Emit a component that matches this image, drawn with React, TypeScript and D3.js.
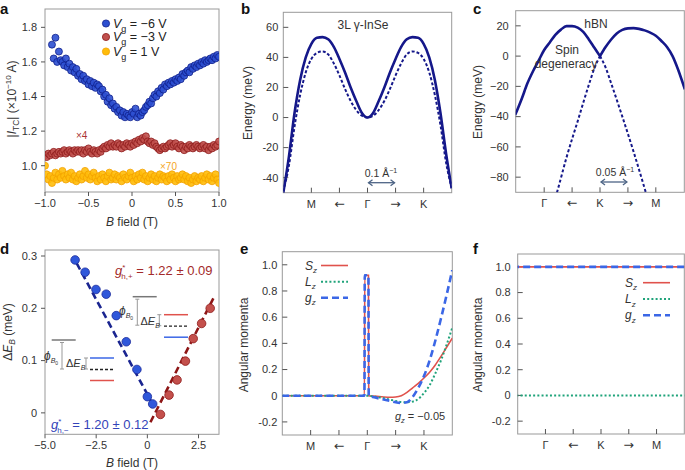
import React from 'react'
import * as d3 from 'd3'

const FONT = '"Liberation Sans", Arial, Helvetica, sans-serif'
const W = 685
const H = 470

// ---------- a: tunnelling current vs B field ----------
const FIELD_STEP = 0.02
const blueStartB = -0.92
const redStartB = -1.0
const yellowStartB = -1.0
// Vg = -6 V
const blueCurrent = [
  1.70, 1.62, 1.74, 1.60, 1.66, 1.61, 1.60, 1.58, 1.62, 1.57,
  1.59, 1.55, 1.57, 1.54, 1.56, 1.52, 1.53, 1.50, 1.52, 1.49,
  1.50, 1.47, 1.49, 1.46, 1.48, 1.45, 1.47, 1.46, 1.43, 1.44,
  1.40, 1.41, 1.37, 1.39, 1.35, 1.36, 1.33, 1.34, 1.31, 1.32,
  1.29, 1.31, 1.28, 1.30, 1.29, 1.28, 1.31, 1.30, 1.33, 1.28,
  1.30, 1.29, 1.31, 1.32, 1.34, 1.35, 1.37, 1.36, 1.39, 1.41,
  1.40, 1.43, 1.42, 1.45, 1.44, 1.47, 1.46, 1.48, 1.47, 1.49,
  1.48, 1.50, 1.49, 1.51, 1.50, 1.53, 1.52, 1.54, 1.55, 1.54,
  1.57, 1.56, 1.58, 1.57, 1.59, 1.58, 1.60, 1.59, 1.61, 1.60,
  1.61, 1.62, 1.61, 1.63, 1.62, 1.64, 1.63
]
// Vg = -3 V (x4)
const redCurrent = [
  1.06, 1.05, 1.07, 1.06, 1.07, 1.08, 1.06, 1.07, 1.08, 1.07,
  1.08, 1.09, 1.07, 1.08, 1.09, 1.08, 1.07, 1.09, 1.08, 1.09,
  1.08, 1.09, 1.07, 1.09, 1.08, 1.10, 1.08, 1.07, 1.09, 1.08,
  1.07, 1.09, 1.08, 1.10, 1.11, 1.10, 1.12, 1.11, 1.13, 1.11,
  1.12, 1.11, 1.13, 1.12, 1.10, 1.12, 1.11, 1.13, 1.12, 1.11,
  1.13, 1.12, 1.14, 1.13, 1.15, 1.14, 1.16, 1.15, 1.17, 1.14,
  1.13, 1.14, 1.12, 1.13, 1.11, 1.10, 1.09, 1.10, 1.11, 1.10,
  1.11, 1.12, 1.13, 1.11, 1.12, 1.13, 1.11, 1.10, 1.12, 1.11,
  1.09, 1.11, 1.10, 1.12, 1.11, 1.10, 1.11, 1.12, 1.11, 1.10,
  1.11, 1.12, 1.10, 1.11, 1.09, 1.11, 1.10, 1.12, 1.11, 1.12,
  1.14
]
// Vg = 1 V (x70)
const yellowCurrent = [
  1.00, 0.95, 0.92, 0.94, 0.90, 0.93, 0.96, 0.92, 0.95, 0.93,
  0.97, 0.94, 0.92, 0.95, 0.93, 0.96, 0.92, 0.94, 0.91, 0.93,
  0.95, 0.92, 0.94, 0.97, 0.93, 0.95, 0.92, 0.94, 0.96, 0.93,
  0.91, 0.94, 0.92, 0.95, 0.93, 0.91, 0.94, 0.96, 0.92, 0.93,
  0.95, 0.92, 0.94, 0.93, 0.91, 0.95, 0.93, 0.92, 0.94, 0.96,
  0.93, 0.91, 0.94, 0.92, 0.95, 0.93, 0.96, 0.92, 0.94, 0.91,
  0.93, 0.95, 0.92, 0.94, 0.91, 0.93, 0.95, 0.92, 0.94, 0.93,
  0.91, 0.94, 0.92, 0.95, 0.93, 0.91, 0.94, 0.92, 0.93, 0.95,
  0.92, 0.94, 0.91, 0.93, 0.90, 0.92, 0.94, 0.91, 0.93, 0.92,
  0.94, 0.91, 0.93, 0.95, 0.92, 0.94, 0.91, 0.93, 0.95, 0.92,
  0.90
]

// ---------- b: 3L InSe bands ----------
const inseK = [-0.3, -0.28, -0.26, -0.24, -0.22, -0.2, -0.18, -0.16, -0.14, -0.12, -0.1, -0.08, -0.06, -0.04, -0.02, 0,
  0.02, 0.04, 0.06, 0.08, 0.1, 0.12, 0.14, 0.16, 0.18, 0.2, 0.22, 0.24, 0.26, 0.28, 0.3]
const inseUpper = [-50, -26, 3, 25, 40, 49, 53, 53.5, 52, 47, 39, 30, 20, 11, 3, 0,
  3, 11, 20, 30, 39, 47, 52, 53.5, 53, 49, 40, 25, 3, -24, -47]
const inseLower = [-49, -32, -6, 15, 30, 39, 43, 44, 42, 36, 28, 19, 11, 5, 1.2, 0,
  1.2, 5, 11, 19, 28, 36, 42, 44, 43, 39, 30, 15, -5, -30, -47]

// ---------- c: hBN bands ----------
const hbnLeftK = [-0.152, -0.14, -0.13, -0.12, -0.11, -0.1, -0.09, -0.08, -0.07, -0.06, -0.05, -0.04, -0.03, -0.02, -0.01, 0]
const hbnLeftE = [-39, -28, -18, -10, -3, 4, 9, 14, 17.5, 19.8, 19.8, 18.8, 16, 11, 5.5, 0]
const hbnRightK = [0, 0.01, 0.02, 0.03, 0.04, 0.05, 0.06, 0.07, 0.08, 0.09, 0.1, 0.11, 0.12, 0.13, 0.14, 0.152]
const hbnRightE = [0, 6, 11, 15, 17.3, 18.3, 18.5, 18, 17, 15.5, 13.5, 10, 6, 0, -9, -22]
const hbnDashLeftK = [-0.085, -0.077, -0.06, -0.04, -0.02, -0.01, 0]
const hbnDashLeftE = [-100, -90, -67, -43, -19, -8, 0]
const hbnDashRightK = [0, 0.01, 0.02, 0.04, 0.06, 0.082, 0.09]
const hbnDashRightE = [0, -7.5, -18, -40, -63, -90, -100]

// ---------- d: Zeeman splitting ----------
const minusB = [-3.53, -3.04, -2.51, -2.01, -1.52, -1.03, -0.51, 0.0, 0.26]
const minusE = [0.2925, 0.269, 0.236, 0.227, 0.186, 0.136, 0.083, 0.031, 0.017]
const plusB = [0.64, 1.06, 1.45, 1.86, 2.24, 2.65, 3.07]
const plusE = [-0.003, 0.034, 0.063, 0.099, 0.142, 0.171, 0.2]
const minusFitB = [-3.45, 0.3]
const minusFitE = [0.286, 0.0136]
const plusFitB = [0.15, 3.3]
const plusFitE = [-0.018, 0.225]

// ---------- e: angular momenta, InSe ----------
const amK = [-0.3, -0.01, -0.009, 0.004, 0.005, 0.02, 0.05, 0.08, 0.1, 0.12, 0.14, 0.16, 0.18, 0.2, 0.22, 0.24, 0.26, 0.28, 0.3]
const amSz = [0, 0, 0.92, 0.92, 0, -0.003, -0.008, -0.012, -0.01, 0.0, 0.025, 0.06, 0.095, 0.135, 0.18, 0.235, 0.3, 0.37, 0.44]
const amLz = [0, 0, 0, 0, 0, -0.005, -0.015, -0.03, -0.04, -0.048, -0.05, -0.045, -0.025, 0.02, 0.08, 0.17, 0.27, 0.39, 0.52]
const amGz = [0, 0, 0.92, 0.92, 0, -0.01, -0.025, -0.04, -0.05, -0.055, -0.05, -0.01, 0.06, 0.15, 0.27, 0.42, 0.59, 0.77, 0.96]

// ---------- f: angular momenta, hBN ----------
const hK = [-0.16, 0.16]
const hSz = [1, 1]
const hLz = [0, 0]
const hGz = [1, 1]

const kLabelsInSe = ['M', '←', 'Γ', '→', 'K']
const kLabelsHbn = ['Γ', '←', 'K', '→', 'M']

const RED = '#e0524c'
const GREEN = '#1fa37a'
const BLUE = '#3b67e6'
const NAVY = '#15188a'

type Sc = d3.ScaleLinear<number, number>

function Axes({ sx, sy, xt, xl, yt, yl, inward, gap }: any) {
  const [x0, x1] = sx.range()
  const [y0, y1] = sy.range()
  const t = inward ? 5 : -4
  return (
    <g fontFamily={FONT} fontSize={11} fill="#333">
      <rect x={x0} y={y1} width={x1 - x0} height={y0 - y1} fill="none" stroke="#999" strokeWidth={1} />
      {xt.map((v: number, i: number) => {
        const arrow = xl[i] === '←' || xl[i] === '→'
        return (
          <g key={'x' + i}>
            <line x1={sx(v)} x2={sx(v)} y1={y0} y2={y0 - t} stroke="#555" />
            <text x={sx(v)} y={y0 + 15} textAnchor="middle"
              fontFamily={arrow ? '"DejaVu Sans", sans-serif' : undefined} fontSize={arrow ? 12.5 : undefined}>{xl[i]}</text>
          </g>
        )
      })}
      {yt.map((v: number, i: number) => (
        <g key={'y' + i}>
          <line x1={x0} x2={x0 + t} y1={sy(v)} y2={sy(v)} stroke="#555" />
          <text x={x0 - gap} y={sy(v)} dy="0.35em" textAnchor="end">{yl[i]}</text>
        </g>
      ))}
    </g>
  )
}

function Clip({ id, sx, sy }: { id: string; sx: Sc; sy: Sc }) {
  const [x0, x1] = sx.range()
  const [y0, y1] = sy.range()
  return (
    <clipPath id={id}>
      <rect x={x0} y={y1} width={x1 - x0} height={y0 - y1} />
    </clipPath>
  )
}

function path(sx: Sc, sy: Sc, xs: number[], ys: number[], curve: any = d3.curveMonotoneX) {
  return d3.line<number>().x((_, i) => sx(xs[i])).y((_, i) => sy(ys[i])).curve(curve)(xs) || ''
}

function Letter({ x, y, c }: { x: number; y: number; c: string }) {
  return <text x={x} y={y} fontFamily={FONT} fontWeight="bold" fontSize={15} fill="#111">{c}</text>
}

function DoubleArrow({ x1, x2, y }: { x1: number; x2: number; y: number }) {
  return (
    <g stroke="#4d6485" strokeWidth={1.3} fill="none">
      <line x1={x1 + 1} x2={x2 - 1} y1={y} y2={y} />
      <path d={`M${x1 + 5},${y - 3} L${x1 + 1},${y} L${x1 + 5},${y + 3}`} />
      <path d={`M${x2 - 5},${y - 3} L${x2 - 1},${y} L${x2 - 5},${y + 3}`} />
    </g>
  )
}

function Levels({ ox, oy, brX, brBot, phiX, phiY, deX, deY, smX, linesX, colors }: any) {
  return (
    <g fontFamily={FONT}>
      <line x1={ox} x2={ox + 24} y1={oy} y2={oy} stroke="#777" strokeWidth={1.5} />
      <g stroke="#999" strokeWidth={1}>
        <line x1={brX} x2={brX} y1={oy + 2.5} y2={oy + brBot} />
        <line x1={brX - 2} x2={brX + 2} y1={oy + 2.5} y2={oy + 2.5} />
        <line x1={brX - 2} x2={brX + 2} y1={oy + brBot} y2={oy + brBot} />
        <line x1={smX} x2={smX} y1={oy + 18} y2={oy + 29} />
        <line x1={smX - 2} x2={smX + 2} y1={oy + 18} y2={oy + 18} />
        <line x1={smX - 2} x2={smX + 2} y1={oy + 29} y2={oy + 29} />
      </g>
      <text x={phiX} y={phiY} fontSize={12} fill="#333">
        <tspan fontStyle="italic">ϕ</tspan>
        <tspan dy={3} fontSize={7} fontStyle="italic">B</tspan>
        <tspan dy={1.5} fontSize={5}>0</tspan>
      </text>
      <text x={deX} y={deY} fontSize={11} fill="#333">
        Δ<tspan fontStyle="italic">E</tspan>
        <tspan dy={3} fontSize={7} fontStyle="italic">B</tspan>
      </text>
      <line x1={linesX} x2={linesX + 24} y1={oy + 18} y2={oy + 18} stroke={colors[0]} strokeWidth={1.5} />
      <line x1={linesX} x2={linesX + 24} y1={oy + 29.5} y2={oy + 29.5} stroke="#222" strokeWidth={1.3} strokeDasharray="3,2" />
      <line x1={linesX} x2={linesX + 24} y1={oy + 40.5} y2={oy + 40.5} stroke={colors[1]} strokeWidth={1.5} />
    </g>
  )
}

export default function App() {
  // ---- scales ----
  const aX = d3.scaleLinear().domain([-1, 1]).range([45, 219])
  const aY = d3.scaleLinear().domain([0.848, 1.906]).range([192, 9])
  const bX = d3.scaleLinear().domain([-0.3, 0.3]).range([283.3, 451.7])
  const bY = d3.scaleLinear().domain([-50, 70]).range([192.7, 12.3])
  const cX = d3.scaleLinear().domain([-0.151, 0.151]).range([515.7, 684.3])
  const cY = d3.scaleLinear().domain([-90, 30]).range([192.3, 10.7])
  const dX = d3.scaleLinear().domain([-5, 3.5]).range([45, 219])
  const dY = d3.scaleLinear().domain([-0.041, 0.3115]).range([434.3, 250])
  const eX = d3.scaleLinear().domain([-0.3, 0.3]).range([282.3, 452.3])
  const eY = d3.scaleLinear().domain([-0.3, 1.1]).range([435, 251.7])
  const fX = d3.scaleLinear().domain([-0.15, 0.15]).range([517.7, 684.3])
  const fY = d3.scaleLinear().domain([-0.3, 1.1]).range([434, 254])

  const series = [
    { vals: yellowCurrent, start: yellowStartB, fill: '#ffbd0a', stroke: '#f2a100' },
    { vals: redCurrent, start: redStartB, fill: '#c0504d', stroke: '#8e1c1c' },
    { vals: blueCurrent, start: blueStartB, fill: '#2c4fd0', stroke: '#0f1f8c' },
  ]

  const amTicksY = [-0.2, 0, 0.2, 0.4, 0.6, 0.8, 1.0]
  const amLabelsY = ['-0.2', '0', '0.2', '0.4', '0.6', '0.8', '1.0']

  return (
    <svg width={W} height={H} style={{ position: 'absolute', left: 0, top: 0, background: '#fff' }}>
      <defs>
        <Clip id="ca" sx={aX} sy={aY} />
        <Clip id="cb" sx={bX} sy={bY} />
        <Clip id="cc" sx={cX} sy={cY} />
        <Clip id="cd" sx={dX} sy={dY} />
        <Clip id="ce" sx={eX} sy={eY} />
        <Clip id="cf" sx={fX} sy={fY} />
      </defs>

      {/* ===== a ===== */}
      <Letter x={0} y={14} c="a" />
      <Axes sx={aX} sy={aY} xt={[-1, -0.5, 0, 0.5, 1]} xl={['−1.0', '−0.5', '0', '0.5', '1.0']}
        yt={[1.0, 1.2, 1.4, 1.6, 1.8]} yl={['1.0', '1.2', '1.4', '1.6', '1.8']} inward={false} gap={8} />
      <g clipPath="url(#ca)">
        {series.map((s, si) => s.vals.map((v, i) => (
          <circle key={si + '-' + i} cx={aX(s.start + i * FIELD_STEP)} cy={aY(v)} r={3.5}
            fill={s.fill} stroke={s.stroke} strokeWidth={0.8} fillOpacity={0.9} />
        )))}
      </g>
      <g fontFamily={FONT} fontSize={12.5} fill="#222">
        {[['−6 V', '#2c4fd0', '#0f1f8c', 23.5], ['−3 V', '#c0504d', '#8e1c1c', 37], ['1 V', '#ffbd0a', '#f2a100', 51.5]].map(([lab, f, s, y]: any) => (
          <g key={lab}>
            <circle cx={106} cy={y} r={3.6} fill={f} stroke={s} strokeWidth={0.8} />
            <text x={113} y={y + 4}>
              <tspan fontStyle="italic">V</tspan>
              <tspan dy={4} fontSize={9}>g</tspan>
              <tspan dy={-4}> = {lab}</tspan>
            </text>
          </g>
        ))}
      </g>
      <text x={76} y={139} fontFamily={FONT} fontSize={10} fill="#a33">×4</text>
      <text x={160} y={170} fontFamily={FONT} fontSize={10} fill="#f5a623">×70</text>
      <text transform="translate(16,99) rotate(-90)" textAnchor="middle" fontFamily={FONT} fontSize={12} fill="#333">
        |<tspan fontStyle="italic">I</tspan>
        <tspan dy={3} fontSize={8.5}>TC</tspan>
        <tspan dy={-3}>| (×10</tspan>
        <tspan dy={-5} fontSize={8}>−10</tspan>
        <tspan dy={5}> A)</tspan>
      </text>
      <text x={132} y={226} textAnchor="middle" fontFamily={FONT} fontSize={12} fill="#333">
        <tspan fontStyle="italic">B</tspan> field (T)
      </text>

      {/* ===== b ===== */}
      <Letter x={241} y={14} c="b" />
      <Axes sx={bX} sy={bY} xt={[-0.2, -0.1, 0, 0.1, 0.2]} xl={kLabelsInSe}
        yt={[-40, -20, 0, 20, 40, 60]} yl={['-40', '-20', '0', '20', '40', '60']} inward gap={5} />
      <g clipPath="url(#cb)" fill="none" stroke={NAVY}>
        <path d={path(bX, bY, inseK, inseLower)} strokeWidth={2} strokeDasharray="3,2" />
        <path d={path(bX, bY, inseK, inseUpper)} strokeWidth={2.6} />
      </g>
      <text x={363} y={29} textAnchor="middle" fontFamily={FONT} fontSize={12} fill="#333">3L γ-InSe</text>
      <text x={381} y={177} textAnchor="middle" fontFamily={FONT} fontSize={10.5} fill="#333">
        0.1 Å<tspan dy={-4} fontSize={7}>−1</tspan>
      </text>
      <DoubleArrow x1={bX(0)} x2={bX(0.1)} y={182.7} />
      <text transform="translate(252,103) rotate(-90)" textAnchor="middle" fontFamily={FONT} fontSize={12} fill="#333">Energy (meV)</text>

      {/* ===== c ===== */}
      <Letter x={473} y={14} c="c" />
      <Axes sx={cX} sy={cY} xt={[-0.1, -0.05, 0, 0.05, 0.1]} xl={kLabelsHbn}
        yt={[-80, -60, -40, -20, 0, 20]} yl={['−80', '−60', '−40', '−20', '0', '20']} inward gap={7} />
      <g clipPath="url(#cc)" fill="none" stroke={NAVY}>
        <path d={path(cX, cY, hbnDashLeftK, hbnDashLeftE)} strokeWidth={2} strokeDasharray="3,2.2" />
        <path d={path(cX, cY, hbnDashRightK, hbnDashRightE)} strokeWidth={2} strokeDasharray="3,2.2" />
        <path d={path(cX, cY, hbnLeftK, hbnLeftE)} strokeWidth={2.6} />
        <path d={path(cX, cY, hbnRightK, hbnRightE)} strokeWidth={2.6} />
      </g>
      <g fontFamily={FONT} fontSize={12} fill="#333" textAnchor="middle">
        <text x={596} y={27.5}>hBN</text>
        <text x={567} y={54}>Spin</text>
        <text x={566} y={67.5}>degeneracy</text>
      </g>
      <text x={615} y={176} textAnchor="middle" fontFamily={FONT} fontSize={10.5} fill="#333">
        0.05 Å<tspan dy={-4} fontSize={7}>−1</tspan>
      </text>
      <DoubleArrow x1={cX(0)} x2={cX(0.05)} y={182} />
      <text transform="translate(482,102) rotate(-90)" textAnchor="middle" fontFamily={FONT} fontSize={12} fill="#333">Energy (meV)</text>

      {/* ===== d ===== */}
      <Letter x={0} y={254} c="d" />
      <Axes sx={dX} sy={dY} xt={[-5, -2.5, 0, 2.5]} xl={['−5.0', '−2.5', '0', '2.5']}
        yt={[0, 0.1, 0.2, 0.3]} yl={['0', '0.1', '0.2', '0.3']} inward={false} gap={8} />
      <Levels ox={132.7} oy={296.7} brX={137.3} brBot={28.5} phiX={119} phiY={315} deX={140.5} deY={325}
        smX={159.3} linesX={164} colors={[RED, BLUE]} />
      <Levels ox={51.7} oy={340} brX={62} brBot={29} phiX={44} phiY={360} deX={66} deY={367}
        smX={86} linesX={90} colors={[BLUE, RED]} />
      <g clipPath="url(#cd)">
        <path d={path(dX, dY, minusFitB, minusFitE, d3.curveLinear)} fill="none" stroke="#1a2590" strokeWidth={2.6} strokeDasharray="7,4" />
        <path d={path(dX, dY, plusFitB, plusFitE, d3.curveLinear)} fill="none" stroke="#8e1616" strokeWidth={2.6} strokeDasharray="7,4" />
        {minusB.map((b, i) => (
          <circle key={'m' + i} cx={dX(b)} cy={dY(minusE[i])} r={4.3} fill="#2f57da" stroke="#1a2a9a" strokeWidth={0.8} />
        ))}
        {plusB.map((b, i) => (
          <circle key={'p' + i} cx={dX(b)} cy={dY(plusE[i])} r={4.3} fill="#c4504c" stroke="#8e1c1c" strokeWidth={0.8} />
        ))}
      </g>
      <text x={115} y={275} fontFamily={FONT} fontSize={13} fill="#a32a2a">
        <tspan fontStyle="italic">g</tspan>
        <tspan dy={-5} fontSize={8}>*</tspan>
        <tspan dx={-4} dy={9} fontSize={8}>h,+</tspan>
        <tspan dy={-4}> = 1.22 ± 0.09</tspan>
      </text>
      <text x={51} y={429} fontFamily={FONT} fontSize={13} fill="#3343b8">
        <tspan fontStyle="italic">g</tspan>
        <tspan dy={-5} fontSize={8}>*</tspan>
        <tspan dx={-4} dy={9} fontSize={8}>h,−</tspan>
        <tspan dy={-4}> = 1.20 ± 0.12</tspan>
      </text>
      <text transform="translate(12,332) rotate(-90)" textAnchor="middle" fontFamily={FONT} fontSize={12} fill="#333">
        Δ<tspan fontStyle="italic">E</tspan>
        <tspan dy={3} fontSize={8.5} fontStyle="italic">B</tspan>
        <tspan dy={-3}> (meV)</tspan>
      </text>
      <text x={132} y={467} textAnchor="middle" fontFamily={FONT} fontSize={12} fill="#333">
        <tspan fontStyle="italic">B</tspan> field (T)
      </text>

      {/* ===== e ===== */}
      <Letter x={240} y={254} c="e" />
      <Axes sx={eX} sy={eY} xt={[-0.2, -0.1, 0, 0.1, 0.2]} xl={kLabelsInSe}
        yt={amTicksY} yl={amLabelsY} inward gap={5} />
      <g clipPath="url(#ce)" fill="none">
        <path d={path(eX, eY, amK, amSz)} stroke={RED} strokeWidth={1.6} />
        <path d={path(eX, eY, amK, amLz)} stroke={GREEN} strokeWidth={2} strokeDasharray="2,2.2" />
        <path d={path(eX, eY, amK, amGz)} stroke={BLUE} strokeWidth={2.6} strokeDasharray="7,4" />
      </g>
      <text x={420} y={420} textAnchor="middle" fontFamily={FONT} fontSize={11} fill="#333">
        <tspan fontStyle="italic">g</tspan>
        <tspan dy={3} fontSize={7.5} fontStyle="italic">z</tspan>
        <tspan dy={-3}> = −0.05</tspan>
      </text>
      <text transform="translate(248,345) rotate(-90)" textAnchor="middle" fontFamily={FONT} fontSize={12} fill="#333">Angular momenta</text>

      {/* ===== f ===== */}
      <Letter x={473} y={254} c="f" />
      <Axes sx={fX} sy={fY} xt={[-0.1, -0.05, 0, 0.05, 0.1]} xl={kLabelsHbn}
        yt={amTicksY} yl={amLabelsY} inward gap={7} />
      <g clipPath="url(#cf)" fill="none">
        <path d={path(fX, fY, hK, hSz, d3.curveLinear)} stroke={RED} strokeWidth={1.6} />
        <path d={path(fX, fY, hK, hLz, d3.curveLinear)} stroke={GREEN} strokeWidth={2} strokeDasharray="2,2.2" />
        <path d={path(fX, fY, hK, hGz, d3.curveLinear)} stroke={BLUE} strokeWidth={2.6} strokeDasharray="7,4" />
      </g>
      <text transform="translate(482,345) rotate(-90)" textAnchor="middle" fontFamily={FONT} fontSize={12} fill="#333">Angular momenta</text>

      {/* legends e & f */}
      {[{ tx: 305, lx: 321, ys: [265.5, 281.7, 297.7] }, { tx: 625, lx: 643, ys: [282.7, 299, 315.3] }].map((L, li) => (
        <g key={li} fontFamily={FONT} fontSize={12} fill="#333">
          {[['S', RED, '', 1.6], ['L', GREEN, '2,2.2', 2], ['g', BLUE, '7,4', 2.6]].map(([n, col, da, sw]: any, j) => (
            <g key={j}>
              <text x={L.tx} y={L.ys[j] + 4}>
                <tspan fontStyle="italic">{n}</tspan>
                <tspan dy={3.5} fontSize={8} fontStyle="italic">z</tspan>
              </text>
              <line x1={L.lx} x2={L.lx + 27} y1={L.ys[j]} y2={L.ys[j]} stroke={col} strokeWidth={sw} strokeDasharray={da || undefined} />
            </g>
          ))}
        </g>
      ))}
    </svg>
  )
}
